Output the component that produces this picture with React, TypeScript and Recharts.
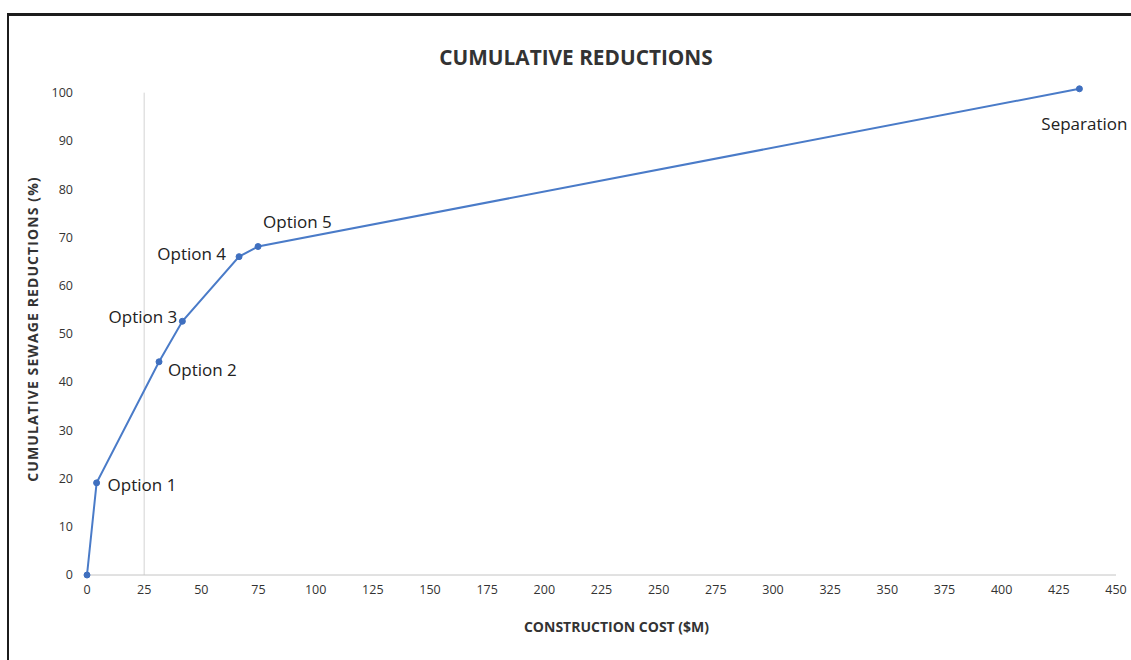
import { LabelList, Line, LineChart, ReferenceLine, XAxis, YAxis, Label } from "recharts";

// cumulative cost ($M) vs cumulative sewage reduction (%)
const costs = [0, 4.2, 31.5, 41.7, 66.5, 74.8, 434];
const reductions = [0, 19.1, 44.2, 52.6, 66.0, 68.1, 100.8];
const pointNames = ["", "Option 1", "Option 2", "Option 3", "Option 4", "Option 5", "Separation"];
const xTicks = [0, 25, 50, 75, 100, 125, 150, 175, 200, 225, 250, 275, 300, 325, 350, 375, 400, 425, 450];
const yTicks = [0, 10, 20, 30, 40, 50, 60, 70, 80, 90, 100];

// where each point's caption sits: [dx, dy, anchor]
const LABEL_PLACE: [number, number, string][] = [
  [0, 0, "start"],
  [11, 2, "start"],
  [9, 8, "start"],
  [-5, -5, "end"],
  [-13, -3, "end"],
  [5, -25, "start"],
  [5, 35, "middle"],
];

const data = costs.map((c, i) => ({ cost: c, reduction: reductions[i], name: pointNames[i] }));

const FONT = "'Open Sans', 'DejaVu Sans', sans-serif";
const BLUE = "#4a7bc8";

function PointLabel(props: any) {
  const { x, y, value, index } = props;
  if (!value) return null;
  const [dx, dy, anchor] = LABEL_PLACE[index];
  return (
    <text
      x={x + dx}
      y={y + dy}
      textAnchor={anchor}
      dominantBaseline="central"
      fontFamily={FONT}
      fontSize={17}
      fill="#222"
    >
      {value}
    </text>
  );
}

export default function App() {
  return (
    <div style={{ position: "absolute", left: 0, top: 0, width: 1131, height: 660, overflow: "hidden" }}>
      <div
        style={{
          position: "absolute",
          left: 7,
          top: 13,
          width: 1124,
          height: 647,
          borderTop: "3px solid #1c1c1c",
          borderLeft: "2px solid #1c1c1c",
          boxSizing: "border-box",
        }}
      />
      <div
        style={{
          position: "absolute",
          left: 0,
          top: 44,
          width: 1152,
          textAlign: "center",
          lineHeight: "26px",
          fontFamily: FONT,
          fontWeight: 700,
          fontSize: 20.8,
          color: "#333",
        }}
      >
        CUMULATIVE REDUCTIONS
      </div>
      <div style={{ position: "absolute", left: 8, top: 8 }}>
        <LineChart width={1123} height={644} data={data} margin={{ top: 75, right: 15, bottom: 17, left: 0 }}>
          <XAxis
            type="number"
            dataKey="cost"
            domain={[0, 450]}
            ticks={xTicks}
            interval={0}
            height={60}
            tickLine={false}
            tickMargin={4}
            axisLine={{ stroke: "#c4c4c4" }}
            tick={{ fontFamily: FONT, fontSize: 12.5, fill: "#333" }}
          >
            <Label
              value="CONSTRUCTION COST ($M)"
              position="insideBottom"
              offset={3}
              dx={15}
              style={{ fontFamily: FONT, fontSize: 14, fontWeight: 700, fill: "#333" }}
            />
          </XAxis>
          <YAxis
            type="number"
            domain={[0, 102]}
            ticks={yTicks}
            interval={0}
            width={79}
            tickLine={false}
            axisLine={false}
            tickMargin={8}
            tick={{ fontFamily: FONT, fontSize: 12.5, fill: "#333" }}
          >
            <Label
              value="CUMULATIVE SEWAGE REDUCTIONS (%)"
              angle={-90}
              position="insideLeft"
              offset={25}
              style={{
                textAnchor: "middle",
                fontFamily: FONT,
                fontSize: 14,
                fontWeight: 700,
                letterSpacing: 1.1,
                fill: "#333",
              }}
            />
          </YAxis>
          <ReferenceLine
            segment={[{ x: 25, y: 0 }, { x: 25, y: 100 }]}
            stroke="#d4d4d4"
            strokeWidth={1}
          />
          <Line
            type="linear"
            dataKey="reduction"
            stroke={BLUE}
            strokeWidth={2}
            dot={{ r: 3, fill: "#3f6fbf", stroke: "#3f6fbf", strokeWidth: 1 }}
            isAnimationActive={false}
          >
            <LabelList dataKey="name" content={<PointLabel />} />
          </Line>
        </LineChart>
      </div>
    </div>
  );
}
